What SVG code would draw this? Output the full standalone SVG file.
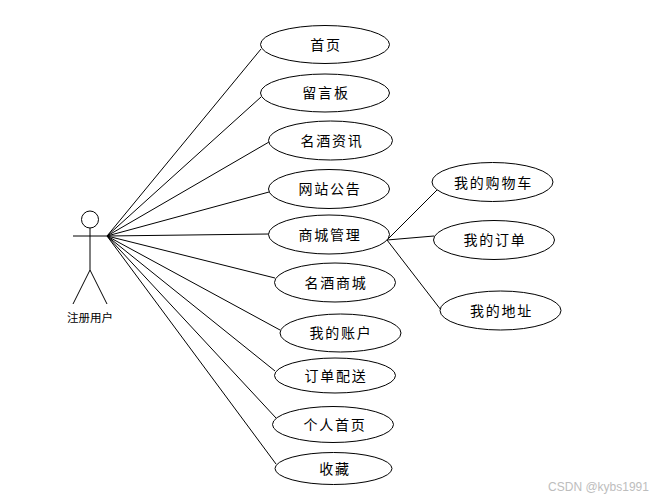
<svg xmlns="http://www.w3.org/2000/svg" width="660" height="500" viewBox="0 0 660 500">
<style>
.e{fill:#fff;stroke:#000;stroke-width:1}
.l{fill:none;stroke:#000;stroke-width:1}
text{font-family:"Noto Sans CJK SC","Liberation Sans",sans-serif;fill:#000;text-anchor:middle;font-size:14px;letter-spacing:1.8px}
</style>
<rect width="660" height="500" fill="#fff"/>
<g id="connectors" class="l">
<line x1="107" y1="236" x2="261" y2="49"/>
<line x1="107" y1="236" x2="261" y2="97"/>
<line x1="107" y1="236" x2="269" y2="142"/>
<line x1="107" y1="236" x2="269" y2="192"/>
<line x1="107" y1="236" x2="269" y2="234"/>
<line x1="107" y1="236" x2="275" y2="278"/>
<line x1="107" y1="236" x2="280" y2="330"/>
<line x1="107" y1="236" x2="275" y2="371"/>
<line x1="107" y1="236" x2="276" y2="418"/>
<line x1="107" y1="236" x2="276" y2="464"/>
<line x1="387" y1="240" x2="437" y2="190"/>
<line x1="387" y1="240" x2="434" y2="236"/>
<line x1="387" y1="240" x2="441" y2="310"/>
</g>
<g id="actor" class="l">
<circle cx="90" cy="219.500" r="8.500"/>
<line x1="90" y1="228" x2="90" y2="270"/>
<line x1="73" y1="236" x2="108" y2="236"/>
<line x1="90" y1="270" x2="73" y2="304"/>
<line x1="90" y1="270" x2="107" y2="304"/>
<text x="90" y="321.500" style="font-size:11.500px;letter-spacing:0;stroke:none">注册用户</text>
</g>
<g id="n1"><ellipse class="e" cx="325" cy="44.500" rx="64.500" ry="19"/><text x="326" y="49.500">首页</text></g>
<g id="n2"><ellipse class="e" cx="325" cy="93" rx="64.500" ry="19"/><text x="326" y="98">留言板</text></g>
<g id="n3"><ellipse class="e" cx="330.500" cy="140.500" rx="62" ry="19.500"/><text x="332" y="145.500">名酒资讯</text></g>
<g id="n4"><ellipse class="e" cx="329" cy="189" rx="60.500" ry="19.500"/><text x="330" y="193.500">网站公告</text></g>
<g id="n5"><ellipse class="e" cx="329" cy="234.500" rx="60.500" ry="19.500"/><text x="330" y="239.500">商城管理</text></g>
<g id="n6"><ellipse class="e" cx="335" cy="282.500" rx="60.500" ry="19.500"/><text x="336" y="287.500">名酒商城</text></g>
<g id="n7"><ellipse class="e" cx="340.500" cy="333" rx="60.500" ry="19"/><text x="341" y="337.500">我的账户</text></g>
<g id="n8"><ellipse class="e" cx="335" cy="375.500" rx="60.500" ry="17.500"/><text x="336" y="380.500">订单配送</text></g>
<g id="n9"><ellipse class="e" cx="333" cy="424.500" rx="60.500" ry="18"/><text x="335" y="429.500">个人首页</text></g>
<g id="n10"><ellipse class="e" cx="333.500" cy="468.500" rx="58.500" ry="16"/><text x="335" y="473.500">收藏</text></g>
<g id="n11"><ellipse class="e" cx="492.500" cy="182" rx="60.500" ry="19.500"/><text x="493.500" y="187.500">我的购物车</text></g>
<g id="n12"><ellipse class="e" cx="494" cy="240" rx="60.500" ry="19.500"/><text x="495" y="245">我的订单</text></g>
<g id="n13"><ellipse class="e" cx="500.500" cy="310.500" rx="60.500" ry="19.500"/><text x="501.500" y="315.500">我的地址</text></g>
<text x="598.500" y="491" style="font-family:'Liberation Sans',sans-serif;font-size:12px;letter-spacing:0;fill:#bdbdbd">CSDN @kybs1991</text>
</svg>
